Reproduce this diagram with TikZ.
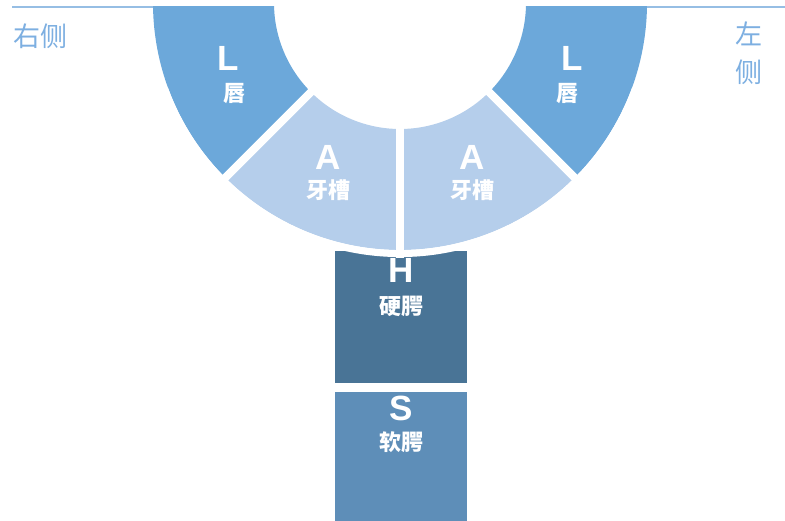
\documentclass[tikz,border=0pt]{standalone}
\usepackage{fontspec}
\setmainfont{Liberation Sans}
\newfontfamily\cjk{Noto Sans CJK SC}
\definecolor{lipblue}{RGB}{108,168,218}
\definecolor{ridgeblue}{RGB}{181,206,235}
\definecolor{hardblue}{RGB}{73,116,150}
\definecolor{softblue}{RGB}{94,142,184}
\definecolor{lineblue}{RGB}{150,190,228}
\definecolor{sideblue}{RGB}{125,175,225}

\begin{document}
\begin{tikzpicture}[x=1pt,y=1pt,inner sep=0pt,
  letter node/.style={text=white,font=\fontsize{35}{35}\selectfont\bfseries},
  name node/.style={text=white,font=\fontsize{22}{22}\selectfont\cjk\bfseries},
  side node/.style={text=sideblue,font=\fontsize{27}{38}\selectfont\cjk,align=center}]
\tikzstyle{gap line} = [draw=white,line width=8pt]

\useasboundingbox (0,0) rectangle (785,521);
\coordinate (center) at (400,518);
\coordinate (linestart) at (12,513.5);
\coordinate (ringleft) at (155,513.5);
\coordinate (ringright) at (645,513.5);
\coordinate (linestop) at (785,513.5);
\draw[lineblue,line width=2pt] (linestart) -- (ringleft);
\draw[lineblue,line width=2pt] (ringright) -- (linestop);

\node[side node] (rightside) at (40,485) {右侧};
\node[side node] (leftside) at (749,468) {左\\侧};

% Palate
\filldraw[draw=none, fill=hardblue] (335,138) rectangle (467,270);
\filldraw[draw=none, fill=softblue] (335,0) rectangle (467,129);
\node[letter node] (hardL) at (401,251) {H};
\node[name node] (hardT) at (401,215) {硬腭};
\node[letter node] (softL) at (401,113) {S};
\node[name node] (softT) at (401,79) {软腭};

% Ring
\begin{scope}
\clip (0,0) rectangle (785,514);
\foreach \a/\b/\c in {180/225/lipblue,225/270/ridgeblue,270/315/ridgeblue,315/360/lipblue}
  \fill[\c,shift={(center)}] (\a:247) arc[start angle=\a,end angle=\b,radius=247] -- (\b:126) arc[start angle=\b,end angle=\a,radius=126] -- cycle;
\foreach \a in {225,270,315}
  \draw[gap line,shift={(center)}] (\a:120) -- (\a:255);
\draw[gap line,line width=7pt,shift={(center)}] (200:250.5) arc[start angle=200,end angle=340,radius=250.5];
\end{scope}

\node[letter node] (lipRL) at (228,463) {L};
\node[name node] (lipRT) at (234,427) {唇};
\node[letter node] (ridgeRL) at (328,364) {A};
\node[name node] (ridgeRT) at (328,331) {牙槽};
\node[letter node] (ridgeLL) at (472,364) {A};
\node[name node] (ridgeLT) at (472,331) {牙槽};
\node[letter node] (lipLL) at (572,463) {L};
\node[name node] (lipLT) at (567,427) {唇};

\end{tikzpicture}
\end{document}
